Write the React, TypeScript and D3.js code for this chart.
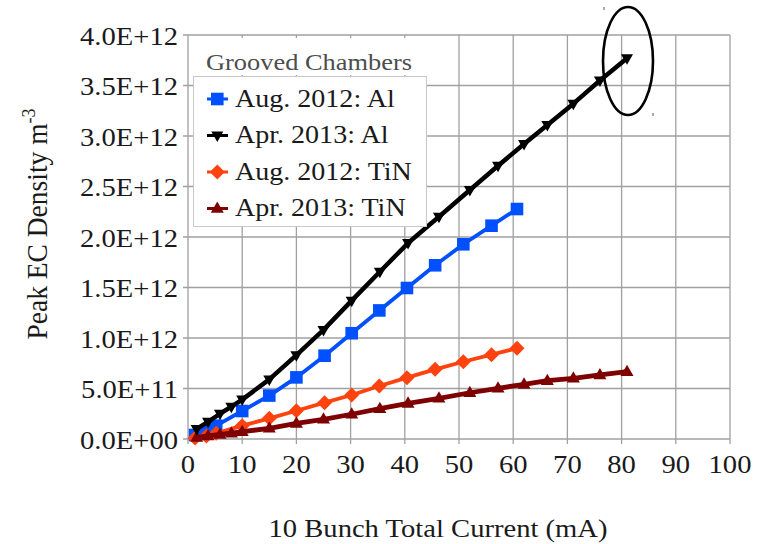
import React from "react";
import * as d3 from "d3";

// ---------- data ----------
const aprCurrent = [1.6, 3.7, 5.9, 8.0, 10.0, 15.0, 20.0, 25.0, 30.2, 35.4, 40.6, 46.3, 52.0, 57.2, 62.0, 66.3, 71.1, 76.0, 81.0];
const aprAl = [0.10, 0.17, 0.25, 0.32, 0.39, 0.59, 0.83, 1.08, 1.37, 1.656, 1.94, 2.2, 2.465, 2.706, 2.92, 3.11, 3.32, 3.55, 3.77].map((v) => v * 1e12);
const aprTiN = [0.015, 0.03, 0.045, 0.058, 0.072, 0.106, 0.155, 0.195, 0.245, 0.3, 0.353, 0.403, 0.458, 0.502, 0.541, 0.577, 0.601, 0.634, 0.666].map((v) => v * 1e12);

const augCurrent = [1.3, 3.4, 5.2, 10.0, 15.0, 20.0, 25.2, 30.2, 35.3, 40.4, 45.6, 50.8, 56.0, 60.7];
const augAl = [0.04, 0.083, 0.132, 0.277, 0.43, 0.61, 0.825, 1.047, 1.273, 1.495, 1.72, 1.928, 2.112, 2.277].map((v) => v * 1e12);
const augTiN = [0.01, 0.03, 0.056, 0.132, 0.205, 0.28, 0.36, 0.436, 0.525, 0.607, 0.69, 0.765, 0.835, 0.898].map((v) => v * 1e12);

const xTicks = [0, 10, 20, 30, 40, 50, 60, 70, 80, 90, 100];
const yTicks = [0, 0.5e12, 1e12, 1.5e12, 2e12, 2.5e12, 3e12, 3.5e12, 4e12];
const yTickLabels = ["0.0E+00", "5.0E+11", "1.0E+12", "1.5E+12", "2.0E+12", "2.5E+12", "3.0E+12", "3.5E+12", "4.0E+12"];

const legendTitle = "Grooved Chambers";
const seriesNames = ["Aug. 2012: Al", "Apr. 2013: Al", "Aug. 2012: TiN", "Apr. 2013: TiN"];

// ---------- layout ----------
const W = 763, H = 544;
const left = 188, right = 730, top = 35, bottom = 439;
const FONT = "'Liberation Serif', 'Times New Roman', serif";
const SX = 1.1;

type Marker = "square" | "down" | "diamond" | "up";

function markerPath(m: Marker): string {
  if (m === "square") return "M-6.3,-6.3H6.3V6.3H-6.3Z";
  if (m === "diamond") return "M0,-7.5L7.5,0L0,7.5L-7.5,0Z";
  if (m === "down") return "M-6,-4L6,-4L0,6.5Z";
  return "M-6.5,4.3L6.5,4.3L0,-7Z";
}

export default function App() {
  const x = d3.scaleLinear().domain([0, 100]).range([left, right]);
  const y = d3.scaleLinear().domain([0, 4e12]).range([bottom, top]);

  const series = [
    { name: seriesNames[0], xs: augCurrent, ys: augAl, color: "#0050ff", width: 3.8, marker: "square" as Marker },
    { name: seriesNames[2], xs: augCurrent, ys: augTiN, color: "#ff420e", width: 3.8, marker: "diamond" as Marker },
    { name: seriesNames[3], xs: aprCurrent, ys: aprTiN, color: "#7f0000", width: 4.8, marker: "up" as Marker },
    { name: seriesNames[1], xs: aprCurrent, ys: aprAl, color: "#000000", width: 4.5, marker: "down" as Marker },
  ];

  const line = d3.line<[number, number]>().x((d) => x(d[0])).y((d) => y(d[1]));

  const legendItems = [
    { name: seriesNames[0], color: "#0050ff", marker: "square" as Marker, w: 3 },
    { name: seriesNames[1], color: "#000000", marker: "down" as Marker, w: 3 },
    { name: seriesNames[2], color: "#ff420e", marker: "diamond" as Marker, w: 3 },
    { name: seriesNames[3], color: "#7f0000", marker: "up" as Marker, w: 3 },
  ];

  const txt = (tx: number, ty: number, s: string, anchor: string, size: number, fill = "#1a1a1a") => (
    <text
      transform={`translate(${tx},${ty}) scale(${SX},1)`}
      textAnchor={anchor}
      fontFamily={FONT}
      fontSize={size}
      fill={fill}
    >
      {s}
    </text>
  );

  return (
    <svg width={W} height={H} style={{ position: "absolute", left: 0, top: 0, background: "#fff" }}>
      <rect x={0} y={0} width={W} height={H} fill="#fff" />
      {/* grid */}
      {xTicks.map((t) => (
        <line key={"gx" + t} x1={x(t)} x2={x(t)} y1={top} y2={bottom + 5} stroke="#a0a0a0" strokeWidth={1.3} />
      ))}
      {yTicks.map((t) => (
        <line key={"gy" + t} x1={left - 5} x2={right} y1={y(t)} y2={y(t)} stroke="#a0a0a0" strokeWidth={1.3} />
      ))}
      {/* tick labels */}
      {yTicks.map((t, i) => (
        <g key={"yl" + t}>{txt(178, y(t) + 9.5, yTickLabels[i], "end", 26)}</g>
      ))}
      {xTicks.map((t) => (
        <g key={"xl" + t}>{txt(x(t), 473, String(t), "middle", 26)}</g>
      ))}
      {/* axis titles */}
      {txt(438, 537, "10 Bunch Total Current (mA)", "middle", 26)}
      <text
        transform={`translate(47,224) scale(${SX},1) rotate(-90)`}
        textAnchor="middle"
        fontFamily={FONT}
        fontSize={27.5}
        fill="#1a1a1a"
      >
        Peak EC Density m<tspan dy={-11} fontSize={18}>-3</tspan>
      </text>

      {/* series */}
      {series.map((s) => {
        const pts: [number, number][] = s.xs.map((v, i) => [v, s.ys[i]]);
        return (
          <g key={s.name}>
            <path d={line(pts) || ""} fill="none" stroke={s.color} strokeWidth={s.width} strokeLinejoin="round" />
            {pts.map((p, i) => (
              <path key={i} d={markerPath(s.marker)} transform={`translate(${x(p[0])},${y(p[1])})`} fill={s.color} />
            ))}
          </g>
        );
      })}

      {/* legend */}
      <rect x={193.5} y={76.5} width={233} height={150} fill="#fff" stroke="#c8c8c8" strokeWidth={1} />
      <rect x={200} y={38} width={222} height={37} fill="#fff" />
      {txt(206, 70, legendTitle, "start", 24, "#4d4d4d")}
      {legendItems.map((it, i) => {
        const cy = 99 + i * 36.5;
        return (
          <g key={it.name}>
            <line x1={207} x2={228} y1={cy} y2={cy} stroke={it.color} strokeWidth={it.w} />
            <path d={markerPath(it.marker)} transform={`translate(217.3,${cy})`} fill={it.color} />
            {txt(235, cy + 7.5, it.name, "start", 25.5)}
          </g>
        );
      })}

      {/* annotation ellipse */}
      <ellipse cx={628} cy={61} rx={25} ry={54} fill="none" stroke="#000" strokeWidth={2.6} />
      <line x1={604} x2={604} y1={7} y2={10} stroke="#555" strokeWidth={1} />
      <line x1={653} x2={653} y1={113} y2={116} stroke="#555" strokeWidth={1} />
    </svg>
  );
}
